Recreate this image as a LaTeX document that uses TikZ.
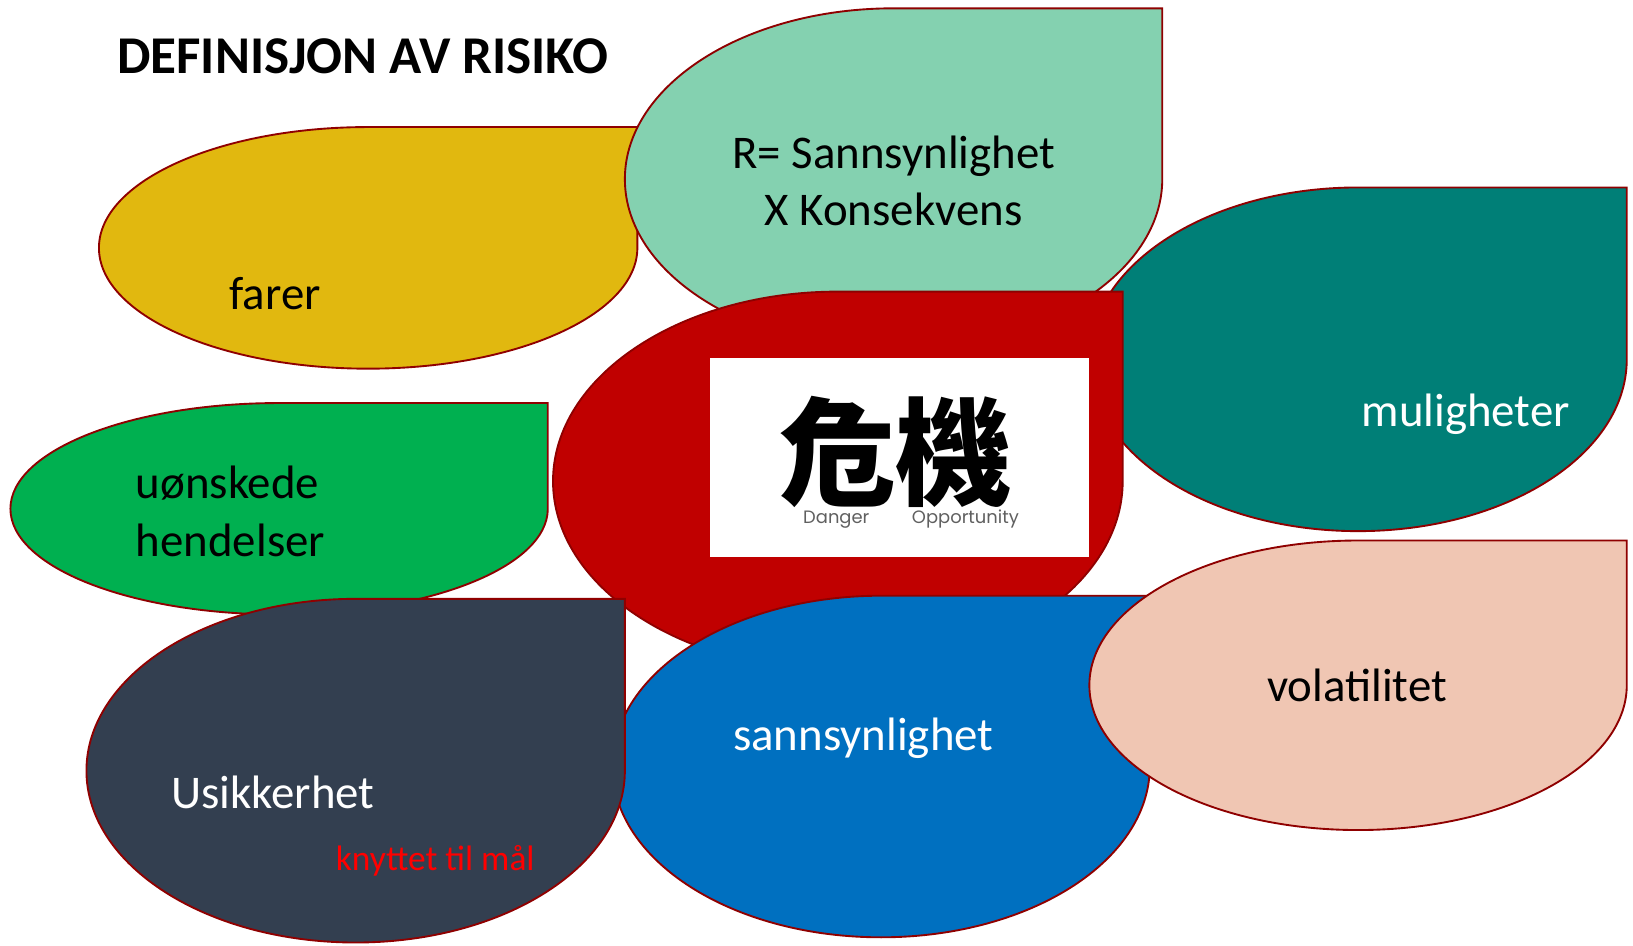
\documentclass[tikz,border=0pt]{standalone}
\usepackage{fontspec}
\setmainfont{Carlito}
\newfontfamily\cjkfont{Noto Sans CJK TC}
\newfontfamily\gothic{Poppins}
\definecolor{edgecol}{HTML}{8F0000}
\definecolor{cgold}{HTML}{E1B80F}
\definecolor{cmint}{HTML}{84D1B0}
\definecolor{cteal}{HTML}{007F77}
\definecolor{cred}{HTML}{C00000}
\definecolor{cgreen}{HTML}{00B050}
\definecolor{cnavy}{HTML}{333F50}
\definecolor{cblue}{HTML}{0070C0}
\definecolor{cpeach}{HTML}{F0C6B3}
\definecolor{cgrey}{HTML}{606060}
\newcommand\teardrop[5]{% #1 style, #2 x0, #3 y0, #4 x1, #5 y1
  \pgfmathsetmacro\tdcx{(#2+#4)/2}%
  \pgfmathsetmacro\tdcy{(#3+#5)/2}%
  \pgfmathsetmacro\tdka{0.5523*(#4-#2)/2}%
  \pgfmathsetmacro\tdkb{0.5523*(#5-#3)/2}%
  \filldraw[shp,#1] (#2,\tdcy) .. controls (#2,\tdcy-\tdkb) and (\tdcx-\tdka,#3) .. (\tdcx,#3)
    -- (#4,#3) -- (#4,\tdcy)
    .. controls (#4,\tdcy+\tdkb) and (\tdcx+\tdka,#5) .. (\tdcx,#5)
    .. controls (\tdcx-\tdka,#5) and (#2,\tdcy+\tdkb) .. (#2,\tdcy) -- cycle;
}
\begin{document}
\begin{tikzpicture}[x=0.5pt,y=-0.5pt,
  shp/.style={draw=edgecol, line width=0.9pt},
  lbl/.style={font=\fontsize{22.5}{27}\selectfont, inner sep=0pt, anchor=base west},
  lblc/.style={font=\fontsize{22.5}{27}\selectfont, inner sep=0pt, anchor=base},
  small/.style={font=\fontsize{17}{20}\selectfont, inner sep=0pt, anchor=base west}]
\useasboundingbox (0,0) rectangle (1568,908);
\fill[white] (0,0) rectangle (1568,908);

\node[font=\fontsize{25.5}{30}\selectfont\bfseries, inner sep=0pt, anchor=base west] (title) at (112,71) {DEFINISJON AV RISIKO};

% farer
\teardrop{fill=cgold}{95}{122}{612}{354}
\node[lbl] (farer) at (220,297) {farer};

% R = ...
\teardrop{fill=cmint}{600}{8}{1116}{336}
\node[lblc] (r1) at (858,162) {R= Sannsynlighet};
\node[lblc] (r2) at (858,217) {X Konsekvens};

% muligheter
\teardrop{fill=cteal}{1046}{180}{1562}{510}
\node[lbl, text=white] (mul) at (1307,410) {muligheter};

% centre
\teardrop{fill=cred}{531}{280}{1078}{644}
\fill[white] (682,344) rectangle (1046,535);
\node[font=\cjkfont\bfseries\fontsize{56}{58}\selectfont, inner sep=0pt] (kanji) at (860,434) {危機};
\node[font=\gothic\fontsize{8.6}{10}\selectfont, text=cgrey, inner sep=0pt, anchor=base] (danger) at (803,503) {Danger};
\node[font=\gothic\fontsize{8.6}{10}\selectfont, text=cgrey, inner sep=0pt, anchor=base] (opp) at (927,503) {Opportunity};

% uonskede hendelser
\teardrop{fill=cgreen}{10}{387}{526}{590}
\node[lbl] (u1) at (130,479) {uønskede};
\node[lbl] (u2) at (130,534) {hendelser};

% sannsynlighet
\teardrop{fill=cblue}{588}{572}{1104}{900}
\node[lblc, text=white] (sann) at (829,721) {sannsynlighet};

% Usikkerhet
\teardrop{fill=cnavy}{83}{575}{600}{905}
\node[lbl, text=white] (usik) at (164,776) {Usikkerhet};
\node[small, text=red] (knyt) at (322,836) {knyttet til mål};

% volatilitet
\teardrop{fill=cpeach}{1046}{519}{1562}{797}
\node[lblc] (vol) at (1303,674) {volatilitet};
\end{tikzpicture}
\end{document}
